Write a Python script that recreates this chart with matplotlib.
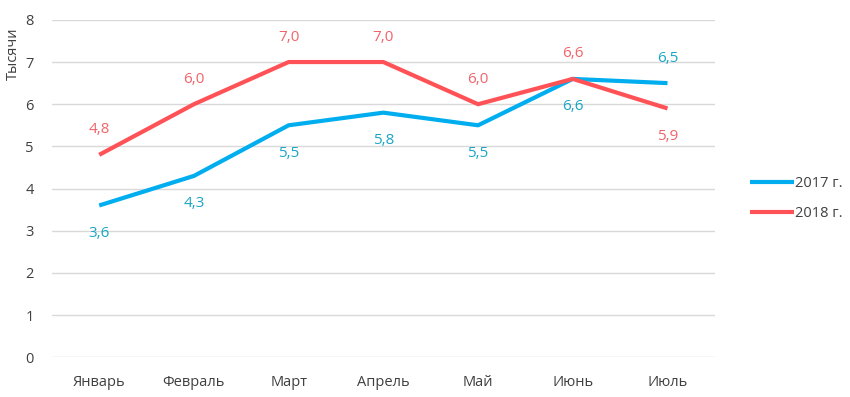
import matplotlib
matplotlib.use("Agg")
import matplotlib.pyplot as plt

months = ["Январь", "Февраль", "Март", "Апрель", "Май", "Июнь", "Июль"]
series_2017 = [3.6, 4.3, 5.5, 5.8, 5.5, 6.6, 6.5]
series_2018 = [4.8, 6.0, 7.0, 7.0, 6.0, 6.6, 5.9]
labels_2017 = ["3,6", "4,3", "5,5", "5,8", "5,5", "6,6", "6,5"]
labels_2018 = ["4,8", "6,0", "7,0", "7,0", "6,0", "6,6", "5,9"]
legend_names = ["2017 г.", "2018 г."]
y_ticks = [0, 1, 2, 3, 4, 5, 6, 7, 8]
y_title = "Тысячи"

plt.rcParams['font.family'] = ['Open Sans', 'DejaVu Sans']

fig = plt.figure(figsize=(8.5, 3.97), dpi=100)
ax = fig.add_axes([0.061, 0.1, 0.78, 0.85])

blue = "#00AEEF"
red = "#FF5257"
blue_txt = "#1AA6C4"
red_txt = "#F0646A"

x = list(range(len(months)))
l1, = ax.plot(x, series_2017, color=blue, lw=3.0, solid_capstyle='butt', solid_joinstyle='round', label=legend_names[0], zorder=3)
l2, = ax.plot(x, series_2018, color=red, lw=3.0, solid_capstyle='butt', solid_joinstyle='round', label=legend_names[1], zorder=3)

for i in x:
    off_b = -20 if i != 6 else 18
    off_r = 18 if i != 6 else -20
    ax.annotate(labels_2017[i], (i, series_2017[i]), xytext=(0, off_b), textcoords='offset points',
                ha='center', va='center', color=blue_txt, fontsize=11, fontweight='medium')
    ax.annotate(labels_2018[i], (i, series_2018[i]), xytext=(0, off_r), textcoords='offset points',
                ha='center', va='center', color=red_txt, fontsize=11, fontweight='medium')

ax.set_xlim(-0.5, len(months) - 0.5)
ax.set_ylim(0, 8)
ax.set_yticks(y_ticks)
ax.set_xticks(x)
ax.set_xticklabels(months)
ax.yaxis.grid(True, color="#D9D9D9", lw=1)
ax.set_axisbelow(True)
for s in ax.spines.values():
    s.set_visible(False)
ax.tick_params(axis='both', length=0, labelsize=10.5, colors="#404040")
ax.tick_params(axis='y', pad=13)
ax.tick_params(axis='x', pad=13)
ax.set_ylabel(y_title, fontsize=10.5, color="#404040")
ax.yaxis.set_label_coords(-0.046, 0.9)

fig.legend(handles=[l1, l2], loc='center left', bbox_to_anchor=(0.867, 0.5), frameon=False,
           fontsize=10.5, handlelength=3.0, handletextpad=0.1, labelspacing=1.0, labelcolor="#404040")

fig.savefig("out.png", dpi=100, facecolor="white")
